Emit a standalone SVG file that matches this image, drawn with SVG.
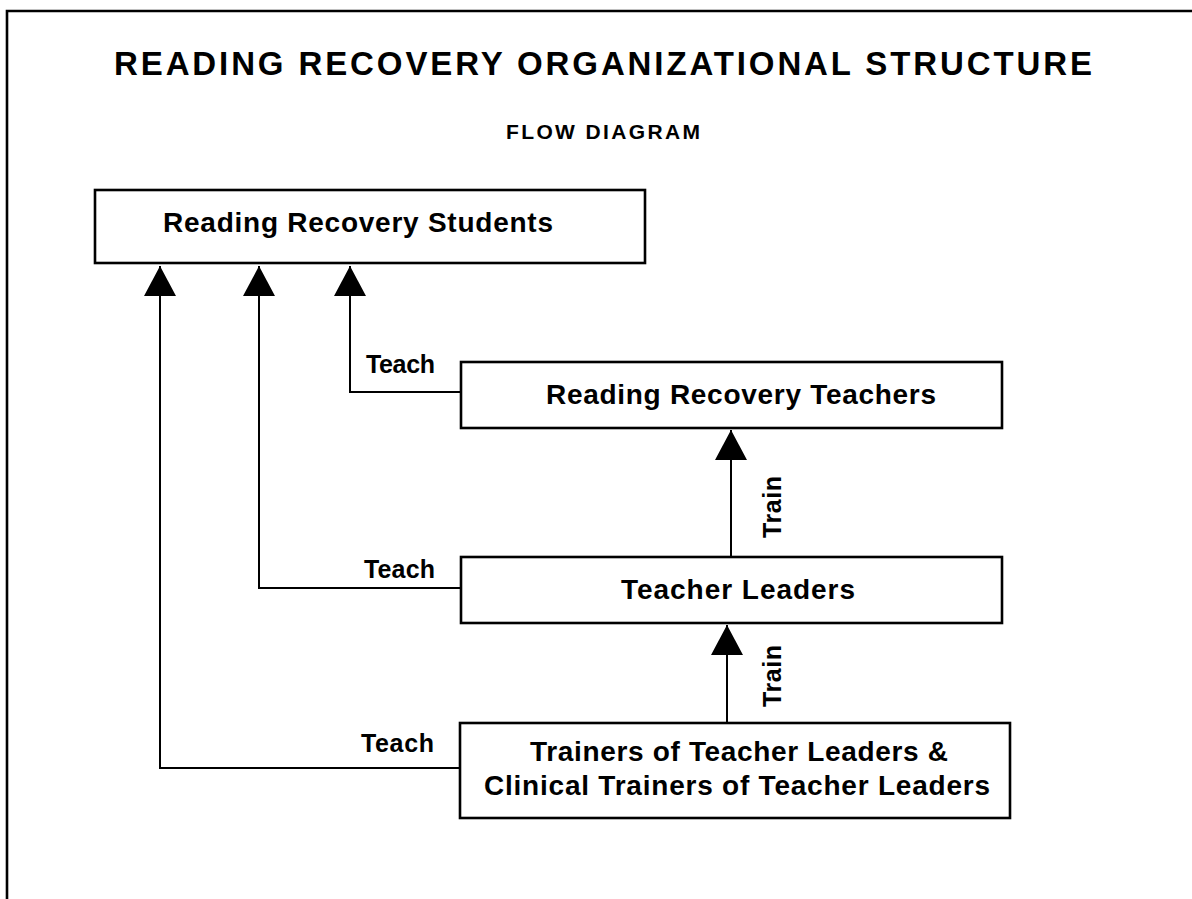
<svg xmlns="http://www.w3.org/2000/svg" width="1192" height="899" viewBox="0 0 1192 899">
  <style>
    text { font-family: "Liberation Sans", Arial, Helvetica, sans-serif; font-weight: bold; fill: #000; }
    .box { fill: #fff; stroke: #000; stroke-width: 2.6; }
    .wire { fill: none; stroke: #000; stroke-width: 2; }
    .node-label { font-size: 28px; text-anchor: middle; }
    .edge-label { font-size: 25px; }
    .title { font-size: 33px; }
    .subtitle { font-size: 21px; }
  </style>
  <defs>
    <marker id="head" markerUnits="userSpaceOnUse" markerWidth="31" markerHeight="32" refX="30" refY="16" orient="auto">
      <path d="M0,0 L30,16 L0,32 Z" fill="#000"/>
    </marker>
  </defs>

  <rect x="0" y="0" width="1192" height="899" fill="#fff"/>
  <!-- page frame -->
  <path d="M1192,11 H7 V899" fill="none" stroke="#000" stroke-width="2.6"/>

  <text class="title" x="114" y="75" textLength="978" lengthAdjust="spacing">READING RECOVERY ORGANIZATIONAL STRUCTURE</text>
  <text class="subtitle" x="506" y="139" textLength="194" lengthAdjust="spacing">FLOW DIAGRAM</text>

  <g id="connectors">
    <!-- Teach: teachers to students -->
    <path class="wire" d="M461,392 H350 V266" marker-end="url(#head)"/>
    <!-- Teach: teacher leaders to students -->
    <path class="wire" d="M461,588 H259 V266" marker-end="url(#head)"/>
    <!-- Teach: trainers to students -->
    <path class="wire" d="M460,768 H160 V266" marker-end="url(#head)"/>
    <!-- Train: teacher leaders to teachers -->
    <path class="wire" d="M731,557 V430" marker-end="url(#head)"/>
    <!-- Train: trainers to teacher leaders -->
    <path class="wire" d="M727,723 V625" marker-end="url(#head)"/>

    <text class="edge-label" x="366" y="373" textLength="69" lengthAdjust="spacing">Teach</text>
    <text class="edge-label" x="364" y="578" textLength="71" lengthAdjust="spacing">Teach</text>
    <text class="edge-label" x="361" y="752" textLength="73" lengthAdjust="spacing">Teach</text>
    <text class="edge-label" x="781" y="507" text-anchor="middle" textLength="62" lengthAdjust="spacing" transform="rotate(-90 781 507)">Train</text>
    <text class="edge-label" x="781" y="676" text-anchor="middle" textLength="62" lengthAdjust="spacing" transform="rotate(-90 781 676)">Train</text>
  </g>

  <g id="students">
    <rect class="box" x="95" y="190" width="550" height="73"/>
    <text class="node-label" x="358" y="232" textLength="390" lengthAdjust="spacing">Reading Recovery Students</text>
  </g>

  <g id="teachers">
    <rect class="box" x="461" y="362" width="541" height="66"/>
    <text class="node-label" x="741" y="404" textLength="390" lengthAdjust="spacing">Reading Recovery Teachers</text>
  </g>

  <g id="teacher-leaders">
    <rect class="box" x="461" y="557" width="541" height="66"/>
    <text class="node-label" x="738" y="599" textLength="234" lengthAdjust="spacing">Teacher Leaders</text>
  </g>

  <g id="trainers">
    <rect class="box" x="460" y="723" width="550" height="95"/>
    <text class="node-label" x="739" y="761" textLength="418" lengthAdjust="spacing">Trainers of Teacher Leaders &amp;</text>
    <text class="node-label" x="737" y="795" textLength="506" lengthAdjust="spacing">Clinical Trainers of Teacher Leaders</text>
  </g>
</svg>
